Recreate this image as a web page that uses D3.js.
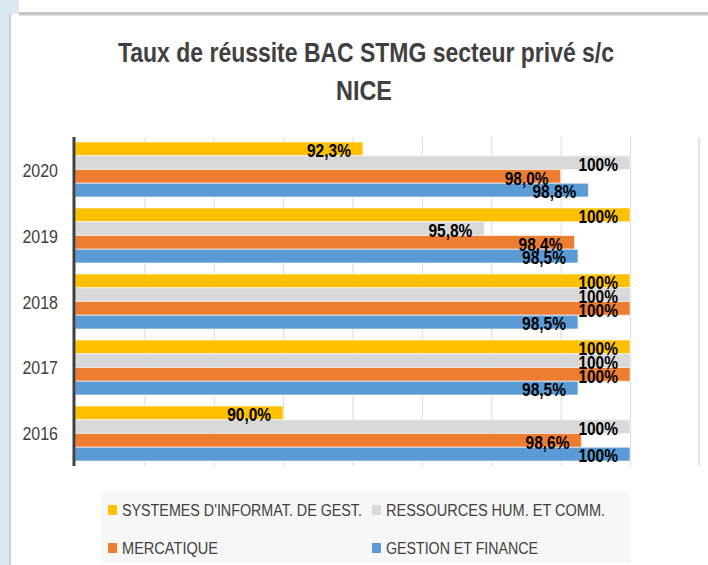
<!DOCTYPE html>
<html>
<head>
<meta charset="utf-8">
<script src="https://cdn.jsdelivr.net/npm/d3@7"></script>
<style>
  html, body { margin: 0; padding: 0; background: #fff; }
  svg { display: block; }
</style>
</head>
<body>
<div id="chart"></div>
<script>
// chart data
const years = ["2020", "2019", "2018", "2017", "2016"];
const seriesNames = ["SYSTEMES D'INFORMAT. DE GEST.", "RESSOURCES HUM. ET COMM.", "MERCATIQUE", "GESTION ET FINANCE"];
const sigValues = [92.3, 100, 100, 100, 90.0];
const rhValues = [100, 95.8, 100, 100, 100];
const mercValues = [98.0, 98.4, 100, 100, 98.6];
const gfValues = [98.8, 98.5, 98.5, 98.5, 100];
const xTicks = [86, 88, 90, 92, 94, 96, 98, 100];
const colors = ["#FFC000", "#D9D9D9", "#ED7D31", "#5B9BD5"];

const width = 708, height = 565;
const plotTop = 137, plotBottom = 466, plotLeft = 75, plotRight = 630;

const allValues = [sigValues, rhValues, mercValues, gfValues];
const rows = years.map(function(yr, i) {
	return {year: yr, vals: allValues.map(function(arr, s) { return {s: s, v: arr[i]}; })};
});

const svg = d3.select("#chart").append("svg")
	.attr("width", width).attr("height", height)
	.style("font-family", "'Liberation Sans', Arial, sans-serif");

// window frame bits (left strip + top border)
svg.append("rect").attr("x", 0).attr("y", 0).attr("width", 19).attr("height", 14).attr("fill", "#dde8f5");
svg.append("rect").attr("x", 0).attr("y", 14).attr("width", 9).attr("height", height - 14).attr("fill", "#dde8f5");
svg.append("rect").attr("x", 19).attr("y", 12).attr("width", width - 19).attr("height", 3.5).attr("fill", "#c6c6c6");
svg.append("rect").attr("x", 9).attr("y", 14).attr("width", 2).attr("height", height - 14).attr("fill", "#cfcfcf");

// shrink text horizontally (the source font is narrower)
function squeeze(sel, k) {
	sel.each(function() {
		var w = this.getComputedTextLength();
		d3.select(this).attr("textLength", w * k).attr("lengthAdjust", "spacingAndGlyphs");
	});
}

// title
svg.append("text").attr("x", 366).attr("y", 62)
	.attr("text-anchor", "middle").attr("font-size", 28).attr("font-weight", "bold").attr("fill", "#404040")
	.attr("textLength", 496).attr("lengthAdjust", "spacingAndGlyphs")
	.text("Taux de réussite BAC STMG secteur privé s/c");
svg.append("text").attr("x", 364).attr("y", 100)
	.attr("text-anchor", "middle").attr("font-size", 28).attr("font-weight", "bold").attr("fill", "#404040")
	.attr("textLength", 56).attr("lengthAdjust", "spacingAndGlyphs")
	.text("NICE");

const x = d3.scaleLinear().domain([84, 100]).range([plotLeft, plotRight]);
const y = d3.scaleBand().domain(years).range([plotTop, plotBottom]).paddingInner(0.167).paddingOuter(0.076);
const ySub = d3.scaleBand().domain(d3.range(seriesNames.length)).range([0, y.bandwidth()]);

// gridlines
svg.append("g")
	.attr("transform", "translate(0," + plotBottom + ")")
	.call(d3.axisBottom(x).tickValues(xTicks).tickSize(-(plotBottom - plotTop)).tickFormat(""))
	.call(function(g) { g.select(".domain").remove(); })
	.call(function(g) { g.selectAll("line").attr("stroke", "#d9d9d9").attr("stroke-width", 1); });

// light line at far right
svg.append("line").attr("x1", 699).attr("x2", 699).attr("y1", plotTop).attr("y2", plotBottom)
	.attr("stroke", "#e6e6e6").attr("stroke-width", 2);

const group = svg.append("g").selectAll("g").data(rows).enter().append("g")
	.attr("transform", function(d) { return "translate(0," + y(d.year) + ")"; });

group.selectAll("rect").data(function(d) { return d.vals; }).enter().append("rect")
	.attr("x", x(84))
	.attr("y", function(d) { return ySub(d.s); })
	.attr("width", function(d) { return x(d.v) - x(84); })
	.attr("height", ySub.bandwidth())
	.attr("fill", function(d) { return colors[d.s]; })
	.attr("stroke", "#ffffff").attr("stroke-opacity", 0.6).attr("stroke-width", 1);

const fmt = function(v) { return v === 100 ? "100%" : v.toFixed(1).replace(".", ",") + "%"; };

const labels = group.selectAll("text").data(function(d) { return d.vals; }).enter().append("text")
	.attr("x", function(d) { return x(d.v) - 12; })
	.attr("y", function(d) { return ySub(d.s) + ySub.bandwidth() + 1.5; })
	.attr("text-anchor", "end").attr("font-size", 18).attr("font-weight", "bold").attr("fill", "#000")
	.text(function(d) { return fmt(d.v); });
squeeze(labels, 0.86);

// y axis labels
const yl = svg.append("g").selectAll("text").data(years).enter().append("text")
	.attr("x", 58).attr("y", function(d) { return y(d) + y.bandwidth() / 2 + 7; })
	.attr("text-anchor", "end").attr("font-size", 19).attr("fill", "#404040")
	.text(function(d) { return d; });
squeeze(yl, 0.84);

// y axis line
svg.append("line").attr("x1", 74).attr("x2", 74).attr("y1", plotTop).attr("y2", plotBottom)
	.attr("stroke", "#404040").attr("stroke-width", 3);

// legend
svg.append("rect").attr("x", 101).attr("y", 491).attr("width", 529).attr("height", 72).attr("fill", "#f7f7f7");
const legX = [108, 372], legY = [510, 548];
const legW = [240, 219, 96, 152];
const leg = svg.append("g").selectAll("g").data(seriesNames).enter().append("g")
	.attr("transform", function(d, i) { return "translate(" + legX[i % 2] + "," + legY[Math.floor(i / 2)] + ")"; });
leg.append("rect").attr("x", 0).attr("y", -5).attr("width", 9).attr("height", 10)
	.attr("fill", function(d, i) { return colors[i]; });
leg.append("text").attr("x", 14).attr("y", 6)
	.attr("font-size", 16).attr("fill", "#404040")
	.attr("textLength", function(d, i) { return legW[i]; }).attr("lengthAdjust", "spacingAndGlyphs")
	.text(function(d) { return d; });
</script>
</body>
</html>
